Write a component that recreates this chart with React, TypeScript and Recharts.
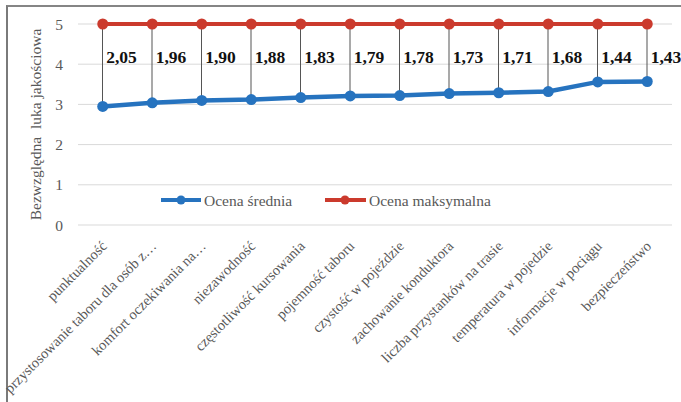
import React from 'react';
import { ComposedChart, Line, Bar, XAxis, YAxis, CartesianGrid, Legend, LabelList } from 'recharts';

const categories = [
  'punktualność',
  'przystosowanie taboru dla osób z…',
  'komfort oczekiwania na…',
  'niezawodność',
  'częstotliwość kursowania',
  'pojemność taboru',
  'czystość w pojeździe',
  'zachowanie konduktora',
  'liczba przystanków na trasie',
  'temperatura w pojedzie',
  'informacje w pociągu',
  'bezpieczeństwo',
];
const meanValues = [2.95, 3.04, 3.1, 3.12, 3.17, 3.21, 3.22, 3.27, 3.29, 3.32, 3.56, 3.57];
const maxValues = [5, 5, 5, 5, 5, 5, 5, 5, 5, 5, 5, 5];
const yTicks = [0, 1, 2, 3, 4, 5];

const data = categories.map((c, i) => ({
  name: c,
  mean: meanValues[i],
  max: maxValues[i],
  range: [meanValues[i], maxValues[i]],
  gap: (maxValues[i] - meanValues[i]).toFixed(2).replace('.', ','),
}));

const BLUE = '#2673bf';
const RED = '#cb3a2d';
const GRAY = '#595959';
const FONT = "'Liberation Serif', 'Times New Roman', serif";
const serif = { fontFamily: FONT };

const XTick = (props: any) => {
  const { x, y, payload } = props;
  return (
    <text
      transform={`translate(${x + 5},${y + 14}) rotate(-45)`}
      textAnchor="end"
      style={serif}
      fontSize={14.5}
      fill={GRAY}
    >
      {payload.value}
    </text>
  );
};

const YTick = (props: any) => {
  const { x, y, payload } = props;
  return (
    <text x={x} y={y} textAnchor="end" dominantBaseline="central" style={serif} fontSize={15.5} fill={GRAY}>
      {payload.value}
    </text>
  );
};

const GapLabel = (props: any) => {
  const { x, y, width, index } = props;
  return (
    <text
      x={x + width / 2 + 19}
      y={y + 39}
      textAnchor="middle"
      style={serif}
      fontSize={17.5}
      fontWeight="bold"
      fill="#111"
    >
      {data[index].gap}
    </text>
  );
};

const YLabel = (props: any) => {
  const { viewBox } = props;
  const cx = viewBox.x + 35;
  const cy = viewBox.y + viewBox.height / 2;
  return (
    <text
      transform={`translate(${cx},${cy}) rotate(-90)`}
      textAnchor="middle"
      dominantBaseline="central"
      style={{ ...serif, whiteSpace: 'pre' }}
      fontSize={15.5}
      fill={GRAY}
    >
      {'Bezwzględna  luka jakościowa'}
    </text>
  );
};

const LegendContent = () => (
  <svg width={681} height={20} style={{ display: 'block' }}>
    <line x1={161} x2={201} y1={10} y2={10} stroke={BLUE} strokeWidth={4} />
    <circle cx={181} cy={10} r={4.5} fill={BLUE} />
    <text x={204} y={10} dominantBaseline="central" style={serif} fontSize={15.5} fill={GRAY}>
      Ocena średnia
    </text>
    <line x1={325} x2={366} y1={10} y2={10} stroke={RED} strokeWidth={4} />
    <circle cx={345} cy={10} r={4.5} fill={RED} />
    <text x={369} y={10} dominantBaseline="central" style={serif} fontSize={15.5} fill={GRAY}>
      Ocena maksymalna
    </text>
  </svg>
);

export default function App() {
  return (
    <div style={{ position: 'absolute', left: 0, top: 0, width: 681, height: 402, background: '#fff', fontFamily: FONT }}>
      <div
        style={{
          position: 'absolute',
          left: 6,
          top: 5,
          width: 675,
          height: 395,
          borderTop: '2px solid #858585',
          borderLeft: '2px solid #7a7a7a',
          borderBottom: '1px solid #d9d9d9',
        }}
      />
      <div style={{ position: 'absolute', left: 0, top: 0 }}>
        <ComposedChart width={681} height={402} data={data} margin={{ top: 24, right: 9, bottom: 7, left: 0 }}>
          <CartesianGrid vertical={false} stroke="#d9d9d9" strokeWidth={1} />
          <XAxis
            dataKey="name"
            interval={0}
            tickLine={false}
            axisLine={false}
            height={170}
            tick={<XTick />}
          />
          <YAxis
            domain={[0, 5]}
            ticks={yTicks}
            width={78}
            tickLine={false}
            axisLine={false}
            tickMargin={9}
            tick={<YTick />}
            label={<YLabel />}
          />
          <Bar dataKey="range" barSize={1} fill="#555" isAnimationActive={false} legendType="none">
            <LabelList dataKey="gap" content={<GapLabel />} />
          </Bar>
          <Line
            type="linear"
            dataKey="max"
            stroke={RED}
            strokeWidth={4}
            dot={{ r: 5.5, fill: RED, stroke: RED, strokeWidth: 0 }}
            isAnimationActive={false}
          />
          <Line
            type="linear"
            dataKey="mean"
            stroke={BLUE}
            strokeWidth={4.5}
            dot={{ r: 5.5, fill: BLUE, stroke: BLUE, strokeWidth: 0 }}
            isAnimationActive={false}
          />
          <Legend
            layout="horizontal"
            verticalAlign="middle"
            align="center"
            content={<LegendContent />}
            wrapperStyle={{ left: 0, top: 190, width: 681, height: 20 }}
          />
        </ComposedChart>
      </div>
    </div>
  );
}
